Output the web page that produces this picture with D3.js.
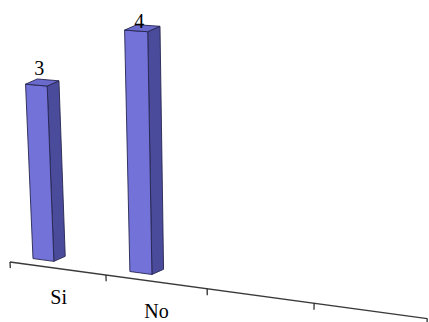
<!DOCTYPE html>
<html>
<head>
<meta charset="utf-8">
<script src="https://cdn.jsdelivr.net/npm/d3@7"></script>
<style>
  html, body { margin: 0; padding: 0; background: #ffffff; }
  svg { display: block; }
  text { font-family: "Liberation Serif", "DejaVu Serif", serif; }
</style>
</head>
<body>
<svg id="chart" width="429" height="322"></svg>
<script>
// Data
const categories = ["Si", "No"];
const values = [3, 4];
const slotCount = 4;          // the category axis is divided into four slots
const valueMax = 4;

const svg = d3.select("#chart");

// World scales: X runs along the category axis, H is height above the floor
const slots = d3.range(slotCount);
const xBand = d3.scaleBand().domain(slots).range([0, 372.8]).paddingInner(0).paddingOuter(0);
const hScale = d3.scaleLinear().domain([0, valueMax]).range([0, 235.8]);

// Perspective projection of world (X, H, D) onto the page; D is depth in bar-depth units
function project(X, H, D) {
  const w = 1 - 0.000279 * X - 0.0002036 * H;
  const sx = (10 + X - 0.04716 * H + 11.24 * D) / w;
  const sy = (262 + 0.0628 * X - H - 5 * D) / w;
  return [sx, sy];
}

const poly = d3.line();

// Category axis with slot boundary ticks
svg.append("path")
  .attr("d", poly([project(0, 0, 0), project(xBand.range()[1], 0, 0)]))
  .attr("fill", "none")
  .attr("stroke", "#3a3a3a")
  .attr("stroke-width", 1.3);

const tickPos = slots.map(s => xBand(s)).concat([xBand.range()[1]]);
svg.selectAll("path.tick")
  .data(tickPos)
  .join("path")
  .attr("class", "tick")
  .attr("d", X => poly([project(X, 0, 0), project(X, -6.5, 0)]))
  .attr("stroke", "#222")
  .attr("stroke-width", 1.2);

// Category labels
svg.selectAll("text.cat")
  .data(categories)
  .join("text")
  .attr("class", "cat")
  .attr("x", (c, i) => project(xBand(i) + xBand.bandwidth() / 2, -37.5, 0)[0])
  .attr("y", (c, i) => project(xBand(i) + xBand.bandwidth() / 2, -37.5, 0)[1])
  .attr("text-anchor", "middle")
  .attr("font-size", 20)
  .attr("fill", "#000")
  .text(c => c);

// 3D bars
const barStart = 0.125, barEnd = 0.345;   // fraction of the slot occupied by the bar
const edge = "#25254f";

const bars = svg.selectAll("g.bar")
  .data(values.map((v, i) => ({ v, i })))
  .join("g")
  .attr("class", "bar");

bars.each(function (d) {
  const g = d3.select(this);
  const x0 = xBand(d.i) + barStart * xBand.bandwidth();
  const x1 = xBand(d.i) + barEnd * xBand.bandwidth();
  const h = hScale(d.v);

  const front = [project(x0, 0, 1), project(x1, 0, 1), project(x1, h, 1), project(x0, h, 1)];
  const side = [project(x1, 0, 1), project(x1, 0, 2), project(x1, h, 2), project(x1, h, 1)];
  const top = [project(x0, h, 1), project(x1, h, 1), project(x1, h, 2), project(x0, h, 2)];

  g.append("path").attr("d", poly(side) + "Z")
    .attr("fill", "#4b4b9c").attr("stroke", edge).attr("stroke-width", 0.9).attr("stroke-linejoin", "round");
  g.append("path").attr("d", poly(front) + "Z")
    .attr("fill", "#7272d8").attr("stroke", edge).attr("stroke-width", 0.9).attr("stroke-linejoin", "round");
  g.append("path").attr("d", poly(top) + "Z")
    .attr("fill", "#6a6acc").attr("stroke", edge).attr("stroke-width", 0.9).attr("stroke-linejoin", "round");

  // value label above the bar, kept inside the plot area
  const xm = (x0 + x1) / 2;
  const [lx, ly] = project(xm, h, 1.25);
  g.append("text")
    .attr("x", lx)
    .attr("y", Math.max(ly - 9, 28))
    .attr("text-anchor", "middle")
    .attr("font-size", 20)
    .attr("fill", "#000")
    .text(d.v);
});
</script>
</body>
</html>
